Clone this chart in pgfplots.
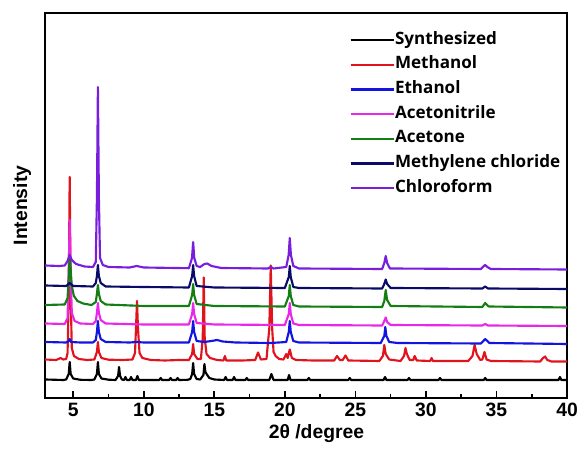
\documentclass[border=0pt]{standalone}
\usepackage{pgfplots}
\pgfplotsset{compat=1.18}
\usepackage{fontspec}
\setmainfont{Liberation Sans}
\newfontfamily\legfont{Open Sans}
\definecolor{cred}{RGB}{225,20,30}
\definecolor{cblue}{RGB}{20,20,225}
\definecolor{cmag}{RGB}{232,40,232}
\definecolor{cgreen}{RGB}{20,125,20}
\definecolor{cnavy}{RGB}{10,10,105}
\definecolor{cpurp}{RGB}{120,30,220}
\begin{document}
\begin{tikzpicture}
\useasboundingbox (-33.75pt,-40.5pt) rectangle (402pt,298.5pt);
\begin{axis}[
  scale only axis, width=391.5pt, height=288.75pt,
  xmin=3, xmax=40, ymin=0, ymax=385,
  xtick={5,10,...,40}, minor x tick num=1, ytick=\empty,
  xtick pos=bottom, tick align=inside,
  major tick length=5.25pt, minor tick length=2.8pt,
  every tick/.style={line width=1.2pt, black},
  axis line style={line width=1.5pt},
  /pgf/number format/assume math mode=true,
  xticklabel style={font=\bfseries\fontsize{14.5}{16}\selectfont},
  xlabel={2θ /degree}, ylabel={Intensity},
  xlabel style={font=\bfseries\fontsize{14.5}{16}\selectfont, at={(axis description cs:0.52,-0.092)}, anchor=center},
  ylabel style={font=\bfseries\fontsize{14.5}{16}\selectfont, at={(axis description cs:-0.044,0.5)}, anchor=center},
  legend cell align=left,
  legend style={draw=none, fill=none, at={(rel axis cs:0.575,0.958)}, anchor=north west,
    font=\legfont\bfseries\fontsize{12.8}{14}\selectfont,
    nodes={inner sep=0pt, text height=9pt, text depth=3pt}, row sep=6.5pt},
  legend image code/.code={\draw[line width=1.8pt,#1] (0pt,0pt) -- (29pt,0pt); \path (0pt,0pt) -- (32.5pt,0pt);},
  every axis plot/.append style={line width=1.6pt, line join=round},
]
% Synthesized
\addplot[black] coordinates {(3,18.5) (4.3,18) (4.5,18.5) (4.68,24) (4.75,36) (4.82,24) (5.0,19.5) (5.5,18.2) (6.3,18) (6.5,18.5) (6.68,24) (6.75,36) (6.82,24) (7.0,19.5) (7.5,18.3) (8.0,18) (8.18,22) (8.25,31) (8.32,22) (8.45,18.5) (8.6,18) (8.7,21) (8.8,18) (9.0,18) (9.1,21) (9.2,18) (9.45,18) (9.55,22) (9.65,18) (10.5,18) (11.1,18) (11.2,20) (11.3,18) (11.8,18) (11.9,20) (12.0,18) (12.3,18) (12.4,20) (12.5,18) (13.1,18.2) (13.3,19) (13.43,24) (13.5,35) (13.57,24) (13.75,19) (14.0,18.5) (14.23,23) (14.3,34) (14.37,26) (14.5,23) (14.65,20) (15.0,18.5) (15.7,18) (15.8,21) (15.9,18) (16.3,18) (16.4,21) (16.5,18) (17.2,18) (17.3,20) (17.4,18) (18.9,18) (19.05,24) (19.2,18) (20.2,18) (20.3,23) (20.4,18) (21.6,18) (21.7,20) (21.8,18) (24.5,18) (24.6,20) (24.7,18) (27.0,18) (27.1,21) (27.2,18) (28.7,18) (28.8,20) (28.9,18) (30.9,18) (31.0,20) (31.1,18) (34.1,18) (34.2,20) (34.3,18) (39.4,18) (39.5,21) (39.6,18) (40,18)};
\addlegendentry{Synthesized}
% Methanol
\addplot[cred] coordinates {(3,38.5) (3.8,38) (4.1,40) (4.3,38.5) (4.5,39) (4.6,45) (4.68,102) (4.75,221) (4.82,102) (4.9,50) (5.05,42) (5.4,39) (6.0,38) (6.5,38.5) (6.68,46) (6.75,56) (6.82,46) (7.0,40) (7.5,38.3) (8.5,38) (9.2,38.5) (9.38,45) (9.45,70) (9.52,97) (9.59,70) (9.7,45) (9.9,40) (10.5,38) (11.5,37.5) (12.5,38) (13.2,38) (13.43,44) (13.5,54) (13.57,44) (13.8,39) (14.05,39) (14.18,60) (14.25,120.5) (14.32,60) (14.45,44) (14.7,40) (15.2,38) (15.65,37.5) (15.75,42) (15.85,37.5) (17.0,37.5) (17.9,38) (18.1,45.5) (18.3,38.5) (18.7,39) (18.9,70) (19.0,132.5) (19.1,70) (19.2,46) (19.35,42) (19.6,39) (19.9,38.5) (20.1,44) (20.2,40) (20.35,48.5) (20.5,40) (20.8,38) (22,37.5) (23.5,37.5) (23.7,42) (23.9,38) (24.1,38) (24.3,42.5) (24.5,37.5) (26.7,37) (26.95,42) (27.05,53) (27.15,44) (27.4,38.5) (28.2,37) (28.45,42) (28.55,50) (28.65,44) (28.85,38) (29.1,38) (29.2,42) (29.35,37.5) (30.3,37) (30.4,40) (30.5,37) (33.0,37) (33.3,42) (33.45,53) (33.6,44) (33.85,38) (34.0,38.5) (34.15,46) (34.3,38.5) (34.6,37) (38.1,36.5) (38.3,40) (38.45,41.5) (38.6,38) (38.9,36.5) (40,36.5)};
\addlegendentry{Methanol}
% Ethanol
\addplot[cblue] coordinates {(3,56) (4.5,55.5) (4.7,57) (4.75,59) (4.85,56) (5.5,55.5) (6.4,55.5) (6.6,58) (6.68,66) (6.75,77) (6.82,66) (6.95,59) (7.3,56) (9,55.5) (9.5,56) (10,55.5) (13.2,55.5) (13.43,66) (13.5,77) (13.57,66) (13.75,57) (14.3,56) (14.8,57) (15.2,58) (15.6,56.5) (16.5,55.5) (19,55) (20.1,56) (20.28,66) (20.35,77) (20.42,66) (20.6,57) (21,55.5) (26.8,55) (27.05,62) (27.12,71) (27.2,62) (27.4,56) (28,55) (33.9,54.5) (34.2,59) (34.5,55) (40,54)};
\addlegendentry{Ethanol}
% Acetonitrile
\addplot[cmag] coordinates {(3,74.5) (4.4,74) (4.6,80) (4.68,125) (4.75,178) (4.82,125) (4.9,85) (5.1,77) (5.5,74.5) (6.4,74) (6.6,77) (6.68,85) (6.75,95) (6.82,85) (6.95,78) (7.3,74.5) (10,73.5) (13.2,73.5) (13.43,84) (13.5,95) (13.57,84) (13.75,75) (15,73.5) (20,73) (20.28,84) (20.35,95) (20.42,84) (20.6,74.5) (21,73) (26.9,72.5) (27.05,77) (27.15,80.5) (27.25,76) (27.5,73) (34,72.5) (34.2,74) (34.4,72.5) (40,72)};
\addlegendentry{Acetonitrile}
% Acetone
\addplot[cgreen] coordinates {(3,93) (4.4,93.5) (4.6,100) (4.68,120) (4.75,143) (4.82,128) (4.9,112) (5.05,102) (5.3,97) (5.7,94.5) (6.3,93) (6.6,96) (6.68,104) (6.75,113) (6.82,104) (6.95,97) (7.3,93.5) (10,92) (13.2,92) (13.43,103) (13.5,114) (13.57,103) (13.75,94) (15,92) (20,91.5) (20.28,102) (20.35,113) (20.42,102) (20.6,93) (21,91.5) (26.9,91) (27.05,97) (27.15,108) (27.25,98) (27.5,92) (34,91) (34.2,95) (34.45,91.5) (40,90.5)};
\addlegendentry{Acetone}
% Methylene chloride
\addplot[cnavy] coordinates {(3,112.5) (4.5,112) (4.75,115) (5.0,112) (6.4,111.5) (6.6,115) (6.68,122) (6.75,133) (6.82,122) (6.95,115) (7.3,111.5) (10,111) (13.2,110.5) (13.43,122) (13.5,133) (13.57,122) (13.75,112) (15,110.5) (20,110) (20.28,121) (20.35,132) (20.42,121) (20.6,111) (21,110) (26.9,109.5) (27.05,114) (27.15,118.5) (27.25,114) (27.5,110) (34,109.5) (34.2,111.5) (34.4,109.5) (40,109)};
\addlegendentry{Methylene chloride}
% Chloroform
\addplot[cpurp] coordinates {(3,132.5) (4.0,132) (4.4,132.5) (4.6,137) (4.75,143) (4.9,138) (5.2,134) (5.8,131.5) (6.4,131) (6.6,136) (6.68,200) (6.75,311) (6.82,200) (6.9,140) (7.1,133) (7.5,131) (9,130.5) (9.5,132) (10,130.5) (13.2,129.8) (13.42,140) (13.5,156) (13.58,140) (13.75,132) (14.0,131) (14.3,134) (14.5,134.5) (14.8,132) (15.5,130) (18.8,129.5) (19.0,131) (19.2,129.5) (20.1,131) (20.27,143) (20.35,160) (20.43,143) (20.6,132) (21,129.5) (26.9,129) (27.05,135) (27.15,142) (27.25,135) (27.45,129.5) (33.9,129) (34.1,132) (34.2,133) (34.35,131) (34.6,129) (40,128.5)};
\addlegendentry{Chloroform}
\end{axis}
\end{tikzpicture}
\end{document}
